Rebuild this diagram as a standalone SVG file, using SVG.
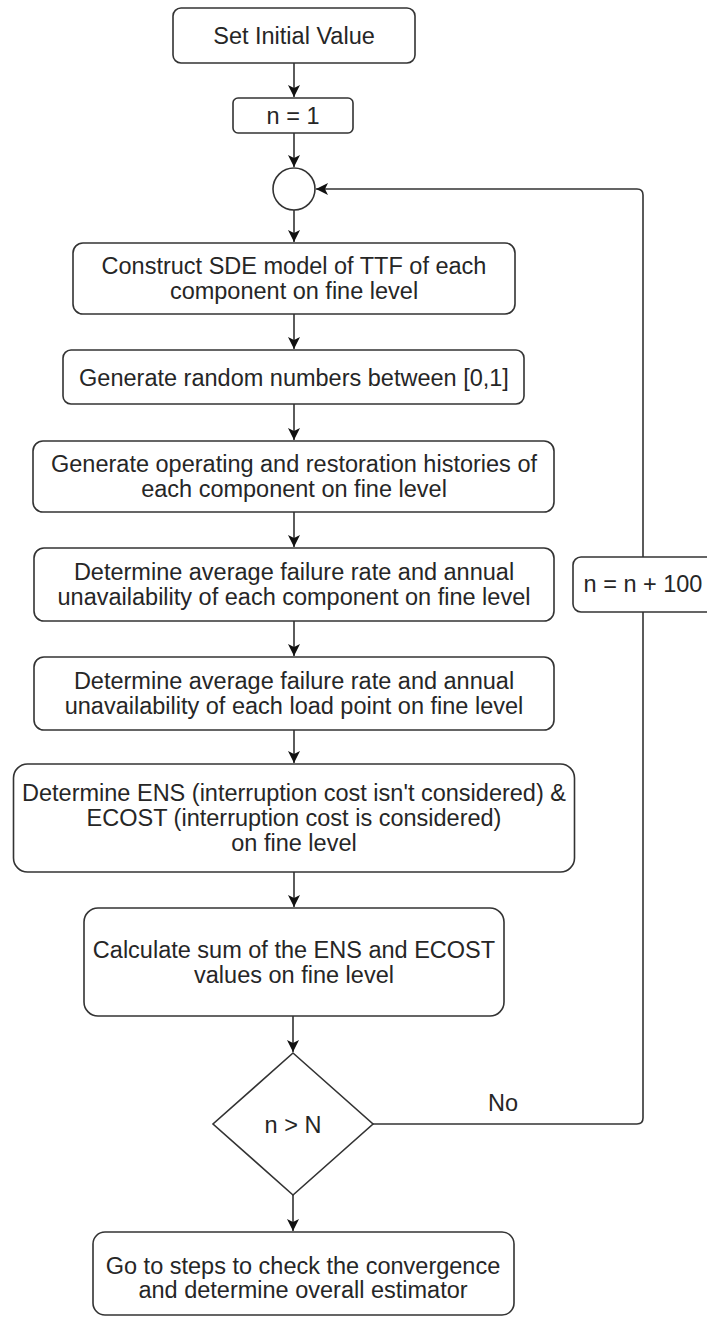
<svg xmlns="http://www.w3.org/2000/svg" width="707" height="1319" viewBox="0 0 707 1319">
<style>
.n{fill:#fff;stroke:#333;stroke-width:1.6}
.t{font-family:"Liberation Sans",Arial,sans-serif;font-size:23.5px;fill:#262626;text-anchor:middle;dominant-baseline:central}
.e{fill:none;stroke:#333;stroke-width:1.6}
</style>
<defs>
<marker id="ar" viewBox="0 0 10 10" refX="10" refY="5" markerWidth="12" markerHeight="12" markerUnits="userSpaceOnUse" orient="auto">
<path d="M0,0 L10,5 L0,10 L2.5,5 z" fill="#111"/>
</marker>
</defs>
<rect width="707" height="1319" fill="#fff"/>
<g id="connectors">
<path class="e" d="M294,63 V97" marker-end="url(#ar)"/>
<path class="e" d="M294,133 V167" marker-end="url(#ar)"/>
<path class="e" d="M294,210 V242" marker-end="url(#ar)"/>
<path class="e" d="M294,314 V349" marker-end="url(#ar)"/>
<path class="e" d="M294,404 V440" marker-end="url(#ar)"/>
<path class="e" d="M294,512 V547" marker-end="url(#ar)"/>
<path class="e" d="M294,621 V656" marker-end="url(#ar)"/>
<path class="e" d="M294,730 V763" marker-end="url(#ar)"/>
<path class="e" d="M294,872 V907" marker-end="url(#ar)"/>
<path class="e" d="M293,1016 V1052" marker-end="url(#ar)"/>
<path class="e" d="M293,1195 V1231" marker-end="url(#ar)"/>
<path class="e" d="M373,1124 H637 Q643,1124 643,1118 V612"/>
<path class="e" d="M643,557 V195 Q643,189 637,189 H316" marker-end="url(#ar)"/>
</g>
<g id="node-start"><rect class="n" x="173" y="8" width="242" height="55" rx="8"/><text class="t" x="294" y="36">Set Initial Value</text></g>
<g id="node-n1"><rect class="n" x="233" y="98" width="120" height="35" rx="5"/><text class="t" x="293" y="116">n = 1</text></g>
<g id="node-join"><circle class="n" cx="294" cy="189" r="21"/></g>
<g id="node-construct"><rect class="n" x="73" y="243" width="442" height="71" rx="10"/><text class="t" x="294" y="266">Construct SDE model of TTF of each</text><text class="t" x="294" y="291">component on fine level</text></g>
<g id="node-random"><rect class="n" x="63" y="350" width="461" height="54" rx="8"/><text class="t" x="294" y="378">Generate random numbers between [0,1]</text></g>
<g id="node-histories"><rect class="n" x="33" y="441" width="521" height="71" rx="10"/><text class="t" x="294" y="464">Generate operating and restoration histories of</text><text class="t" x="294" y="489">each component on fine level</text></g>
<g id="node-comp"><rect class="n" x="34" y="548" width="520" height="73" rx="10"/><text class="t" x="294" y="572">Determine average failure rate and annual</text><text class="t" x="294" y="597">unavailability of each component on fine level</text></g>
<g id="node-load"><rect class="n" x="34" y="657" width="520" height="73" rx="10"/><text class="t" x="294" y="681">Determine average failure rate and annual</text><text class="t" x="294" y="706">unavailability of each load point on fine level</text></g>
<g id="node-ens"><rect class="n" x="13.5" y="764" width="561" height="108" rx="14"/><text class="t" x="294" y="793">Determine ENS (interruption cost isn't considered) &amp;</text><text class="t" x="294" y="818">ECOST (interruption cost is considered)</text><text class="t" x="294" y="843">on fine level</text></g>
<g id="node-sum"><rect class="n" x="84" y="908" width="420" height="108" rx="14"/><text class="t" x="294" y="950">Calculate sum of the ENS and ECOST</text><text class="t" x="294" y="975">values on fine level</text></g>
<g id="node-decision"><polygon class="n" points="293,1053 373,1124 293,1195 213,1124"/><text class="t" x="293" y="1125">n &gt; N</text></g>
<g id="node-end"><rect class="n" x="93" y="1232" width="421" height="83" rx="12"/><text class="t" x="303" y="1266">Go to steps to check the convergence</text><text class="t" x="303" y="1290">and determine overall estimator</text></g>
<g id="node-inc"><rect class="n" x="573" y="557" width="142" height="55" rx="8"/><text class="t" x="643" y="584">n = n + 100</text></g>
<text class="t" x="503" y="1103">No</text>
</svg>
